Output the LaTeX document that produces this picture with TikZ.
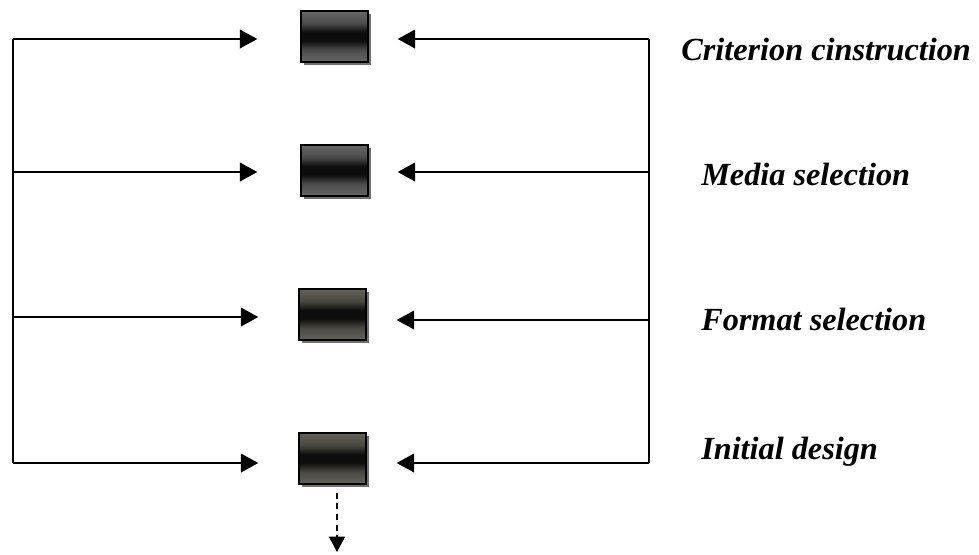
\documentclass[tikz,border=0pt]{standalone}
\usepackage{fontspec}
\setmainfont{Liberation Serif}
\usetikzlibrary{arrows.meta,shadows}

\definecolor{boxgray}{RGB}{104,104,104}
\definecolor{boxolive}{RGB}{100,100,90}
\definecolor{shadowgray}{RGB}{112,112,112}

% dark band across the middle of each block
\pgfdeclareverticalshading{bandgray}{100bp}{%
  color(0bp)=(boxgray); color(25bp)=(boxgray);
  color(37bp)=(boxgray!72!black); color(46bp)=(black!95);
  color(54bp)=(black!95); color(63bp)=(boxgray!72!black);
  color(75bp)=(boxgray); color(100bp)=(boxgray)}
\pgfdeclareverticalshading{bandolive}{100bp}{%
  color(0bp)=(boxolive); color(25bp)=(boxolive);
  color(37bp)=(boxolive!72!black); color(46bp)=(black!95);
  color(54bp)=(black!95); color(63bp)=(boxolive!72!black);
  color(75bp)=(boxolive); color(100bp)=(boxolive)}

\tikzset{
  stage/.style={draw=black, line width=1.1pt, minimum width=50.25pt,
    minimum height=38.25pt, inner sep=0pt, shading=#1,
    drop shadow={shadow xshift=2.4pt, shadow yshift=-2.6pt,
      fill=shadowgray, opacity=1}},
  stage/.default=bandgray,
  link/.style={line width=1.2pt, line join=miter},
  feed/.style={link, -{Triangle[length=13pt,width=14pt]}},
  nextstep/.style={line width=1.1pt, dash pattern=on 4.5pt off 3.5pt,
    -{Triangle[length=11.5pt,width=12pt]}},
  label/.style={anchor=base west, inner sep=0pt,
    font=\fontsize{24.2}{29}\selectfont\bfseries\itshape}
}

\begin{document}
\begin{tikzpicture}[x=0.75pt, y=-0.75pt]
  \useasboundingbox (0,0) rectangle (979,554);

  % the four stage blocks
  \node[stage]           (b1) at (334.5,36.5) {};
  \node[stage]           (b2) at (334.5,170.5) {};
  \node[stage=bandolive] (b3) at (332.5,314.5) {};
  \node[stage=bandolive] (b4) at (332.5,458.5) {};

  % stage names
  \node[label] (t1) at (681,60)  {Criterion cinstruction};
  \node[label] (t2) at (701,185) {Media selection};
  \node[label] (t3) at (701,330) {Format selection};
  \node[label] (t4) at (701,459) {Initial design};

  % corners of the left and right feedback rails
  \coordinate (l1) at (13,39);
  \coordinate (l2) at (13,172);
  \coordinate (l3) at (13,317);
  \coordinate (l4) at (13,463);
  \coordinate (r1) at (649,39);
  \coordinate (r2) at (649,172);
  \coordinate (r3) at (649,320);
  \coordinate (r4) at (649,463);
  \coordinate (down) at (337,552);

  % left rail
  \draw[link] (l1) -- (l4);
  \draw[feed, shorten >=32.25pt] (l1) -- (l1 -| b1.west);
  \draw[feed, shorten >=32.25pt] (l2) -- (l2 -| b2.west);
  \draw[feed, shorten >=30pt]    (l3) -- (l3 -| b3.west);
  \draw[feed, shorten >=30pt]    (l4) -- (l4 -| b4.west);

  % right rail
  \draw[link] (r1) -- (r4);
  \draw[feed, shorten >=21.75pt] (r1) -- (r1 -| b1.east);
  \draw[feed, shorten >=21.75pt] (r2) -- (r2 -| b2.east);
  \draw[feed, shorten >=22.5pt]  (r3) -- (r3 -| b3.east);
  \draw[feed, shorten >=22.5pt]  (r4) -- (r4 -| b4.east);

  % continuation below the last stage
  \draw[nextstep, shorten <=6pt] (b4.south -| down) -- (down);
\end{tikzpicture}
\end{document}
